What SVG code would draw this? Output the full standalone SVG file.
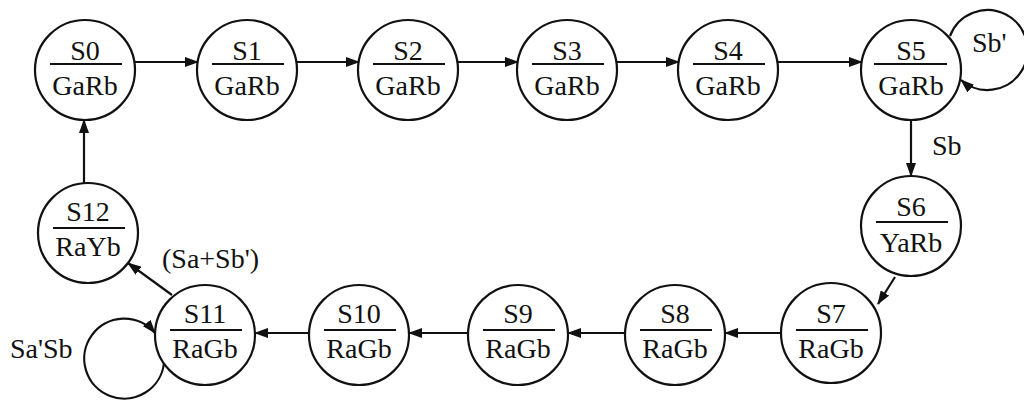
<svg xmlns="http://www.w3.org/2000/svg" width="1024" height="403" viewBox="0 0 1024 403">
<style>
.n circle{fill:#fff;stroke:#111;stroke-width:2.2}
.n line{stroke:#111;stroke-width:2.2}
text{font-family:"Liberation Serif","Times New Roman",serif;font-size:28px;fill:#111}
.n text{text-anchor:middle}
.c{fill:none;stroke:#111;stroke-width:2.2;marker-end:url(#ah)}
</style>
<defs>
<marker id="ah" markerUnits="userSpaceOnUse" markerWidth="14" markerHeight="10" refX="13" refY="5" orient="auto">
<path d="M0,0 L14,5 L0,10 Z" fill="#111"/>
</marker>
</defs>
<rect width="1024" height="403" fill="#fff"/>
<g id="connectors">
<line class="c" x1="134" y1="62" x2="198" y2="62"/>
<line class="c" x1="296" y1="62" x2="359" y2="62"/>
<line class="c" x1="457" y1="62" x2="518" y2="62"/>
<line class="c" x1="616" y1="62" x2="679" y2="62"/>
<line class="c" x1="777" y1="62" x2="862" y2="62"/>
<path class="c" d="M950,36 A40,40 0 1 1 961,80"/>
<line class="c" x1="911" y1="120" x2="911" y2="176"/>
<path class="c" d="M895,277 L878,304"/>
<line class="c" x1="782" y1="333" x2="725" y2="333"/>
<line class="c" x1="626" y1="333" x2="568" y2="333"/>
<line class="c" x1="469" y1="333" x2="409" y2="333"/>
<line class="c" x1="310" y1="333" x2="255" y2="333"/>
<path class="c" d="M164,363 A40,40 0 1 1 155,333"/>
<line class="c" x1="172" y1="295" x2="128" y2="263"/>
<line class="c" x1="84" y1="183" x2="84" y2="120"/>
</g>
<g id="labels">
<text x="972" y="52">Sb'</text>
<text x="932" y="155">Sb</text>
<text x="162" y="268">(Sa+Sb')</text>
<text x="10" y="358">Sa'Sb</text>
</g>
<g id="S0" class="n"><circle cx="85" cy="70" r="50"/><line x1="50" y1="64" x2="122" y2="64"/><text x="85" y="60">S0</text><text x="85" y="95">GaRb</text></g>
<g id="S1" class="n"><circle cx="247" cy="70" r="50"/><line x1="212" y1="64" x2="284" y2="64"/><text x="247" y="60">S1</text><text x="247" y="95">GaRb</text></g>
<g id="S2" class="n"><circle cx="408" cy="70" r="50"/><line x1="373" y1="64" x2="445" y2="64"/><text x="408" y="60">S2</text><text x="408" y="95">GaRb</text></g>
<g id="S3" class="n"><circle cx="567" cy="70" r="50"/><line x1="532" y1="64" x2="604" y2="64"/><text x="567" y="60">S3</text><text x="567" y="95">GaRb</text></g>
<g id="S4" class="n"><circle cx="728" cy="70" r="50"/><line x1="693" y1="64" x2="765" y2="64"/><text x="728" y="60">S4</text><text x="728" y="95">GaRb</text></g>
<g id="S5" class="n"><circle cx="911" cy="70" r="50"/><line x1="874" y1="64" x2="947" y2="64"/><text x="911" y="60">S5</text><text x="911" y="95">GaRb</text></g>
<g id="S6" class="n"><circle cx="911" cy="226" r="50"/><line x1="876" y1="222" x2="948" y2="222"/><text x="911" y="216">S6</text><text x="911" y="252">YaRb</text></g>
<g id="S7" class="n"><circle cx="831" cy="333" r="50"/><line x1="796" y1="330" x2="868" y2="330"/><text x="831" y="323">S7</text><text x="831" y="358">RaGb</text></g>
<g id="S8" class="n"><circle cx="675" cy="335" r="50"/><line x1="640" y1="330" x2="712" y2="330"/><text x="675" y="323">S8</text><text x="675" y="358">RaGb</text></g>
<g id="S9" class="n"><circle cx="518" cy="335" r="50"/><line x1="483" y1="330" x2="555" y2="330"/><text x="518" y="323">S9</text><text x="518" y="358">RaGb</text></g>
<g id="S10" class="n"><circle cx="359" cy="335" r="50"/><line x1="324" y1="330" x2="396" y2="330"/><text x="359" y="323">S10</text><text x="359" y="358">RaGb</text></g>
<g id="S11" class="n"><circle cx="205" cy="335" r="50"/><line x1="170" y1="330" x2="242" y2="330"/><text x="205" y="323">S11</text><text x="205" y="358">RaGb</text></g>
<g id="S12" class="n"><circle cx="88" cy="233" r="50"/><line x1="53" y1="228" x2="125" y2="228"/><text x="88" y="221">S12</text><text x="88" y="256">RaYb</text></g>
</svg>
